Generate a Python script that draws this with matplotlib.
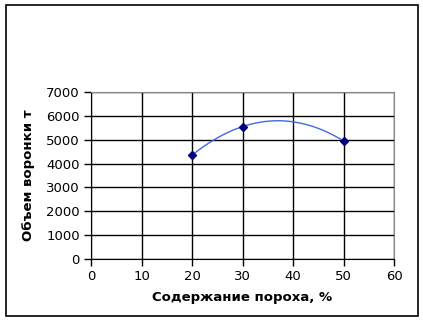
import numpy as np
import matplotlib
matplotlib.use("Agg")
import matplotlib.pyplot as plt
from matplotlib.patches import Rectangle

powder = [20, 30, 50]
volume = [4350, 5550, 4950]
xticks = [0, 10, 20, 30, 40, 50, 60]
yticks = [0, 1000, 2000, 3000, 4000, 5000, 6000, 7000]

fig = plt.figure(figsize=(4.23, 3.2), dpi=100)
fig.patch.set_facecolor("white")
fig.add_artist(Rectangle((6/423, 1-316/320), (418-6)/423, (316-5)/320,
                         transform=fig.transFigure, fill=False,
                         edgecolor="black", linewidth=1.2))

ax = fig.add_axes([91/423, 1-259/320, (394-91)/423, (259-92)/320])

coef = np.polyfit(powder, volume, 2)
xs = np.linspace(powder[0], powder[-1], 200)
ax.plot(xs, np.polyval(coef, xs), color="#4169E1", linewidth=1.0, zorder=3)
ax.plot(powder, volume, linestyle="none", marker="D", markersize=4.5,
        color="#000080", zorder=4)

ax.set_xlim(0, 60)
ax.set_ylim(0, 7000)
ax.set_xticks(xticks)
ax.set_yticks(yticks)
ax.grid(True, color="black", linewidth=1.0)
ax.set_axisbelow(True)
for s in ["top", "right"]:
    ax.spines[s].set_color("#888888")
for s in ["left", "bottom"]:
    ax.spines[s].set_color("black")
ax.tick_params(direction="out", length=5, width=1, labelsize=9.5, colors="black", pad=3)
ax.set_xlabel("Содержание пороха, %", fontsize=9.5, fontweight="bold", labelpad=6)
ax.set_ylabel("Объем воронки т", fontsize=9.5, fontweight="bold", labelpad=8)

fig.savefig("out.png", dpi=100)
